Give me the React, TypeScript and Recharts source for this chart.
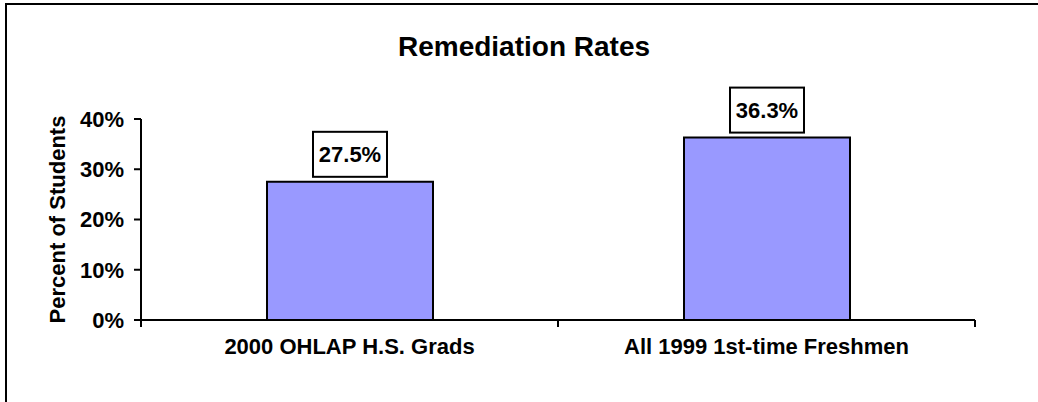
import { BarChart, Bar, XAxis, YAxis, LabelList, Label } from "recharts";

const CATEGORIES = ["2000 OHLAP H.S. Grads", "All 1999 1st-time Freshmen"];
const RATES = [27.5, 36.3];
const Y_TICKS = [0, 10, 20, 30, 40];

const data = CATEGORIES.map((name, i) => ({ name, rate: RATES[i] }));

const FONT = '"Liberation Sans", Arial, sans-serif';

function ValueBox(props: any) {
  const { x, y, width, value } = props;
  const w = 74;
  const h = 45;
  const cx = x + width / 2;
  const top = y - 5 - h;
  return (
    <g>
      <rect x={cx - w / 2} y={top} width={w} height={h} fill="#fff" stroke="#000" strokeWidth={2} />
      <text
        x={cx}
        y={top + h / 2}
        textAnchor="middle"
        dominantBaseline="central"
        fontFamily={FONT}
        fontWeight="bold"
        fontSize={22}
        fill="#000"
      >
        {`${value.toFixed(1)}%`}
      </text>
    </g>
  );
}

// category label + tick marks on the category boundaries (Excel style)
function CategoryTick(props: any) {
  const { x, y, payload, index } = props;
  const half = payload && payload.offset ? payload.offset : 208.5;
  return (
    <g>
      {index === 0 && <line x1={x - half} x2={x - half} y1={y} y2={y + 7} stroke="#000" strokeWidth={2} />}
      <line x1={x + half} x2={x + half} y1={y} y2={y + 7} stroke="#000" strokeWidth={2} />
      <text
        x={x}
        y={y + 18}
        dy="0.71em"
        textAnchor="middle"
        fontFamily={FONT}
        fontWeight="bold"
        fontSize={22}
        fill="#000"
      >
        {payload.value}
      </text>
    </g>
  );
}

export default function App() {
  const tickStyle = { fill: "#000", fontSize: 22, fontWeight: "bold", fontFamily: FONT };
  return (
    <div
      style={{
        position: "absolute",
        left: 0,
        top: 0,
        width: 1038,
        height: 402,
        overflow: "hidden",
        background: "#fff",
      }}
    >
      <div
        style={{
          position: "absolute",
          left: 5,
          top: 3,
          width: 1100,
          height: 500,
          borderLeft: "2px solid #000",
          borderTop: "2px solid #000",
        }}
      />
      <div
        style={{
          position: "absolute",
          left: 0,
          top: 33,
          width: 1048,
          textAlign: "center",
          fontFamily: FONT,
          fontWeight: "bold",
          fontSize: 28,
          lineHeight: "28px",
        }}
      >
        Remediation Rates
      </div>
      <div style={{ position: "absolute", left: 0, top: 0 }}>
        <BarChart
          width={1038}
          height={402}
          data={data}
          margin={{ top: 119, right: 63, left: 0, bottom: 42 }}
        >
          <XAxis
            dataKey="name"
            height={40}
            axisLine={{ stroke: "#000", strokeWidth: 2 }}
            tickLine={false}
            tickSize={0}
            tickMargin={0}
            tick={<CategoryTick />}
            interval={0}
          />
          <YAxis
            domain={[0, 40]}
            ticks={Y_TICKS}
            width={141}
            tickSize={7}
            tickMargin={10}
            tickFormatter={(v: number) => `${v}%`}
            tick={tickStyle}
            axisLine={{ stroke: "#000", strokeWidth: 2 }}
            tickLine={{ stroke: "#000", strokeWidth: 2 }}
          >
            <Label
              content={(p: any) => {
                const vb = p.viewBox || { x: 0, y: 119, height: 201 };
                const lx = vb.x + 57;
                const ly = vb.y + vb.height / 2;
                return (
                  <text
                    x={lx}
                    y={ly}
                    transform={`rotate(-90 ${lx} ${ly})`}
                    textAnchor="middle"
                    dominantBaseline="central"
                    fontFamily={FONT}
                    fontWeight="bold"
                    fontSize={22}
                    fill="#000"
                  >
                    Percent of Students
                  </text>
                );
              }}
            />
          </YAxis>
          <Bar
            dataKey="rate"
            barSize={166}
            fill="#9999FF"
            stroke="#000"
            strokeWidth={2}
            isAnimationActive={false}
          >
            <LabelList dataKey="rate" content={ValueBox} />
          </Bar>
        </BarChart>
      </div>
    </div>
  );
}
